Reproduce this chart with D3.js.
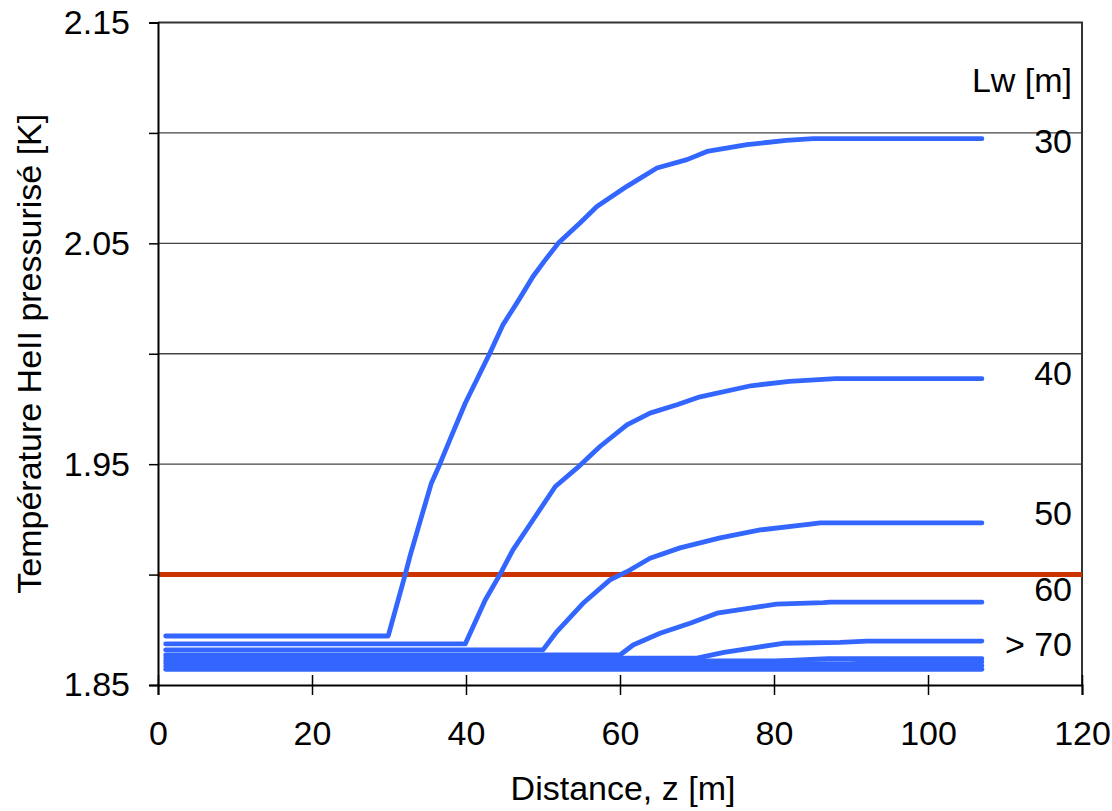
<!DOCTYPE html>
<html>
<head>
<meta charset="utf-8">
<script src="https://cdn.jsdelivr.net/npm/d3@7"></script>
<style>
  html, body { margin: 0; padding: 0; background: #fff; }
  svg { display: block; font-family: "Liberation Sans", Arial, sans-serif; }
</style>
</head>
<body>
<svg id="chart" width="1112" height="811"></svg>
<script>
// Helium II temperature along the distance z, for several Lw values [m]
const lw30 = [[1,1.8722],[29.9,1.8722],[32.1,1.90],[32.7,1.908],[34.2,1.926],[35.5,1.9414],[36.6,1.95],[37.9,1.961],[39.9,1.9776],[41.4,1.9882],[43.1,2.0003],[44.8,2.0131],[47.0,2.0252],[48.7,2.035],[50.3,2.0425],[52.0,2.0501],[54.8,2.0592],[57.0,2.0667],[60.9,2.0758],[64.8,2.0841],[68.7,2.0879],[71.3,2.0916],[76.5,2.0947],[81.6,2.0966],[85.1,2.0974],[107,2.0974]];
const lw40 = [[1,1.8686],[39.9,1.8686],[42.5,1.8885],[44.4,1.90],[46.1,1.9112],[49.0,1.9263],[51.6,1.9399],[54.4,1.9482],[57.4,1.958],[60.9,1.9678],[63.9,1.9731],[67.5,1.977],[70.4,1.9805],[77,1.9855],[82,1.9875],[88,1.9887],[107,1.9887]];
const lw50 = [[1,1.8659],[50,1.8659],[51.8,1.8742],[55.2,1.887],[58.7,1.8976],[60.9,1.9013],[63.9,1.9074],[67.8,1.9121],[73,1.9166],[78.2,1.9202],[84.7,1.9229],[86,1.9234],[107,1.9234]];
const lw60 = [[1,1.8636],[60,1.8636],[61.7,1.8681],[65.2,1.8734],[69.1,1.878],[72.6,1.8825],[76.9,1.8848],[80.3,1.8866],[86.4,1.8873],[87.3,1.8875],[107,1.8875]];
const lw70 = [[1,1.8622],[70,1.8622],[73.5,1.8648],[76.9,1.8666],[81.2,1.8689],[88.6,1.8693],[92.1,1.8699],[107,1.8699]];
const lw80 = [[1,1.8609],[80,1.8609],[82,1.8611],[87,1.8619],[107,1.8619]];
const lw90 = [[1,1.8597],[90,1.8597],[95,1.8604],[107,1.8604]];
const lw100 = [[1,1.8584],[100,1.8584],[103,1.8587],[107,1.8587]];
const lw110 = [[1,1.8571],[107,1.8571]];
const seriesList = [lw30, lw40, lw50, lw60, lw70, lw80, lw90, lw100, lw110];

// Reference limit line
const limitT = 1.90;

// Right-hand curve labels and their positions on the temperature scale
const curveLabels = ["30", "40", "50", "60", "> 70"];
const curveLabelT = [2.0964, 1.9915, 1.9278, 1.8935, 1.8685];
const titleLabel = "Lw [m]";
const titleLabelT = 2.1240;

// Axis ticks
const xTicks = [0, 20, 40, 60, 80, 100, 120];
const yTicksMajor = [1.85, 1.95, 2.05, 2.15];
const yGrid = [1.90, 1.95, 2.00, 2.05, 2.10];
const yTicksAll = [1.85, 1.90, 1.95, 2.00, 2.05, 2.10, 2.15];

const FONT = 34;
const svg = d3.select("#chart");
const plotLeft = 158, plotRight = 1082, plotTop = 22.5, plotBottom = 685;

const x = d3.scaleLinear().domain([0, 120]).range([plotLeft, plotRight]);
const y = d3.scaleLinear().domain([1.85, 2.15]).range([plotBottom, plotTop]);

// Gridlines
svg.append("g").selectAll("line").data(yGrid).join("line")
  .attr("x1", plotLeft).attr("x2", plotRight)
  .attr("y1", d => y(d)).attr("y2", d => y(d))
  .attr("stroke", "#444").attr("stroke-width", 1.3);

// Plot frame (top and right)
svg.append("path")
  .attr("d", `M${plotLeft},${y(2.15)}H${x(120)}V${plotBottom}`)
  .attr("fill", "none").attr("stroke", "#333").attr("stroke-width", 2);

// Limit line
svg.append("line")
  .attr("x1", x(0)).attr("x2", x(120))
  .attr("y1", y(limitT)).attr("y2", y(limitT))
  .attr("stroke", "#CC3300").attr("stroke-width", 5);

// Temperature curves
const line = d3.line().x(d => x(d[0])).y(d => y(d[1]));
svg.append("g").selectAll("path").data(seriesList).join("path")
  .attr("d", line)
  .attr("fill", "none")
  .attr("stroke", "#3366FF")
  .attr("stroke-width", 4.8)
  .attr("stroke-linecap", "round")
  .attr("stroke-linejoin", "round");

// X axis
const xAxis = svg.append("g").attr("transform", `translate(0,${plotBottom})`)
  .call(d3.axisBottom(x).tickValues(xTicks).tickSize(10).tickPadding(26).tickFormat(d3.format("d")));
xAxis.select(".domain").attr("stroke", "#000").attr("stroke-width", 2);
xAxis.selectAll(".tick line").attr("y1", -10).attr("y2", 10).attr("stroke", "#000").attr("stroke-width", 1.5);
xAxis.selectAll(".tick text").attr("font-size", FONT).attr("fill", "#000")
  .attr("font-family", "Liberation Sans, Arial, sans-serif");

// Y axis
const yAxis = svg.append("g").attr("transform", `translate(${plotLeft},0)`)
  .call(d3.axisLeft(y).tickValues(yTicksAll).tickSize(9).tickPadding(19)
    .tickFormat(d => yTicksMajor.some(v => Math.abs(v - d) < 1e-9) ? d3.format(".2f")(d) : ""));
yAxis.select(".domain").attr("stroke", "#000").attr("stroke-width", 2);
yAxis.selectAll(".tick line").attr("stroke", "#000").attr("stroke-width", 1.5);
yAxis.selectAll(".tick text").attr("font-size", FONT).attr("fill", "#000")
  .attr("font-family", "Liberation Sans, Arial, sans-serif");

// Curve labels on the right
svg.append("g").selectAll("text").data(curveLabels).join("text")
  .attr("x", 1072)
  .attr("y", (d, i) => y(curveLabelT[i]))
  .attr("text-anchor", "end")
  .attr("dominant-baseline", "central")
  .attr("font-size", FONT)
  .text(d => d);

svg.append("text")
  .attr("x", 1072).attr("y", y(titleLabelT))
  .attr("text-anchor", "end").attr("dominant-baseline", "central")
  .attr("font-size", FONT)
  .text(titleLabel);

// Axis titles
svg.append("text")
  .attr("x", x(60) + 3).attr("y", 800)
  .attr("text-anchor", "middle")
  .attr("font-size", FONT)
  .text("Distance, z [m]");

svg.append("text")
  .attr("transform", `translate(41,${y(2.0)}) rotate(-90)`)
  .attr("text-anchor", "middle")
  .attr("font-size", FONT)
  .text("Température HeII pressurisé [K]");
</script>
</body>
</html>
